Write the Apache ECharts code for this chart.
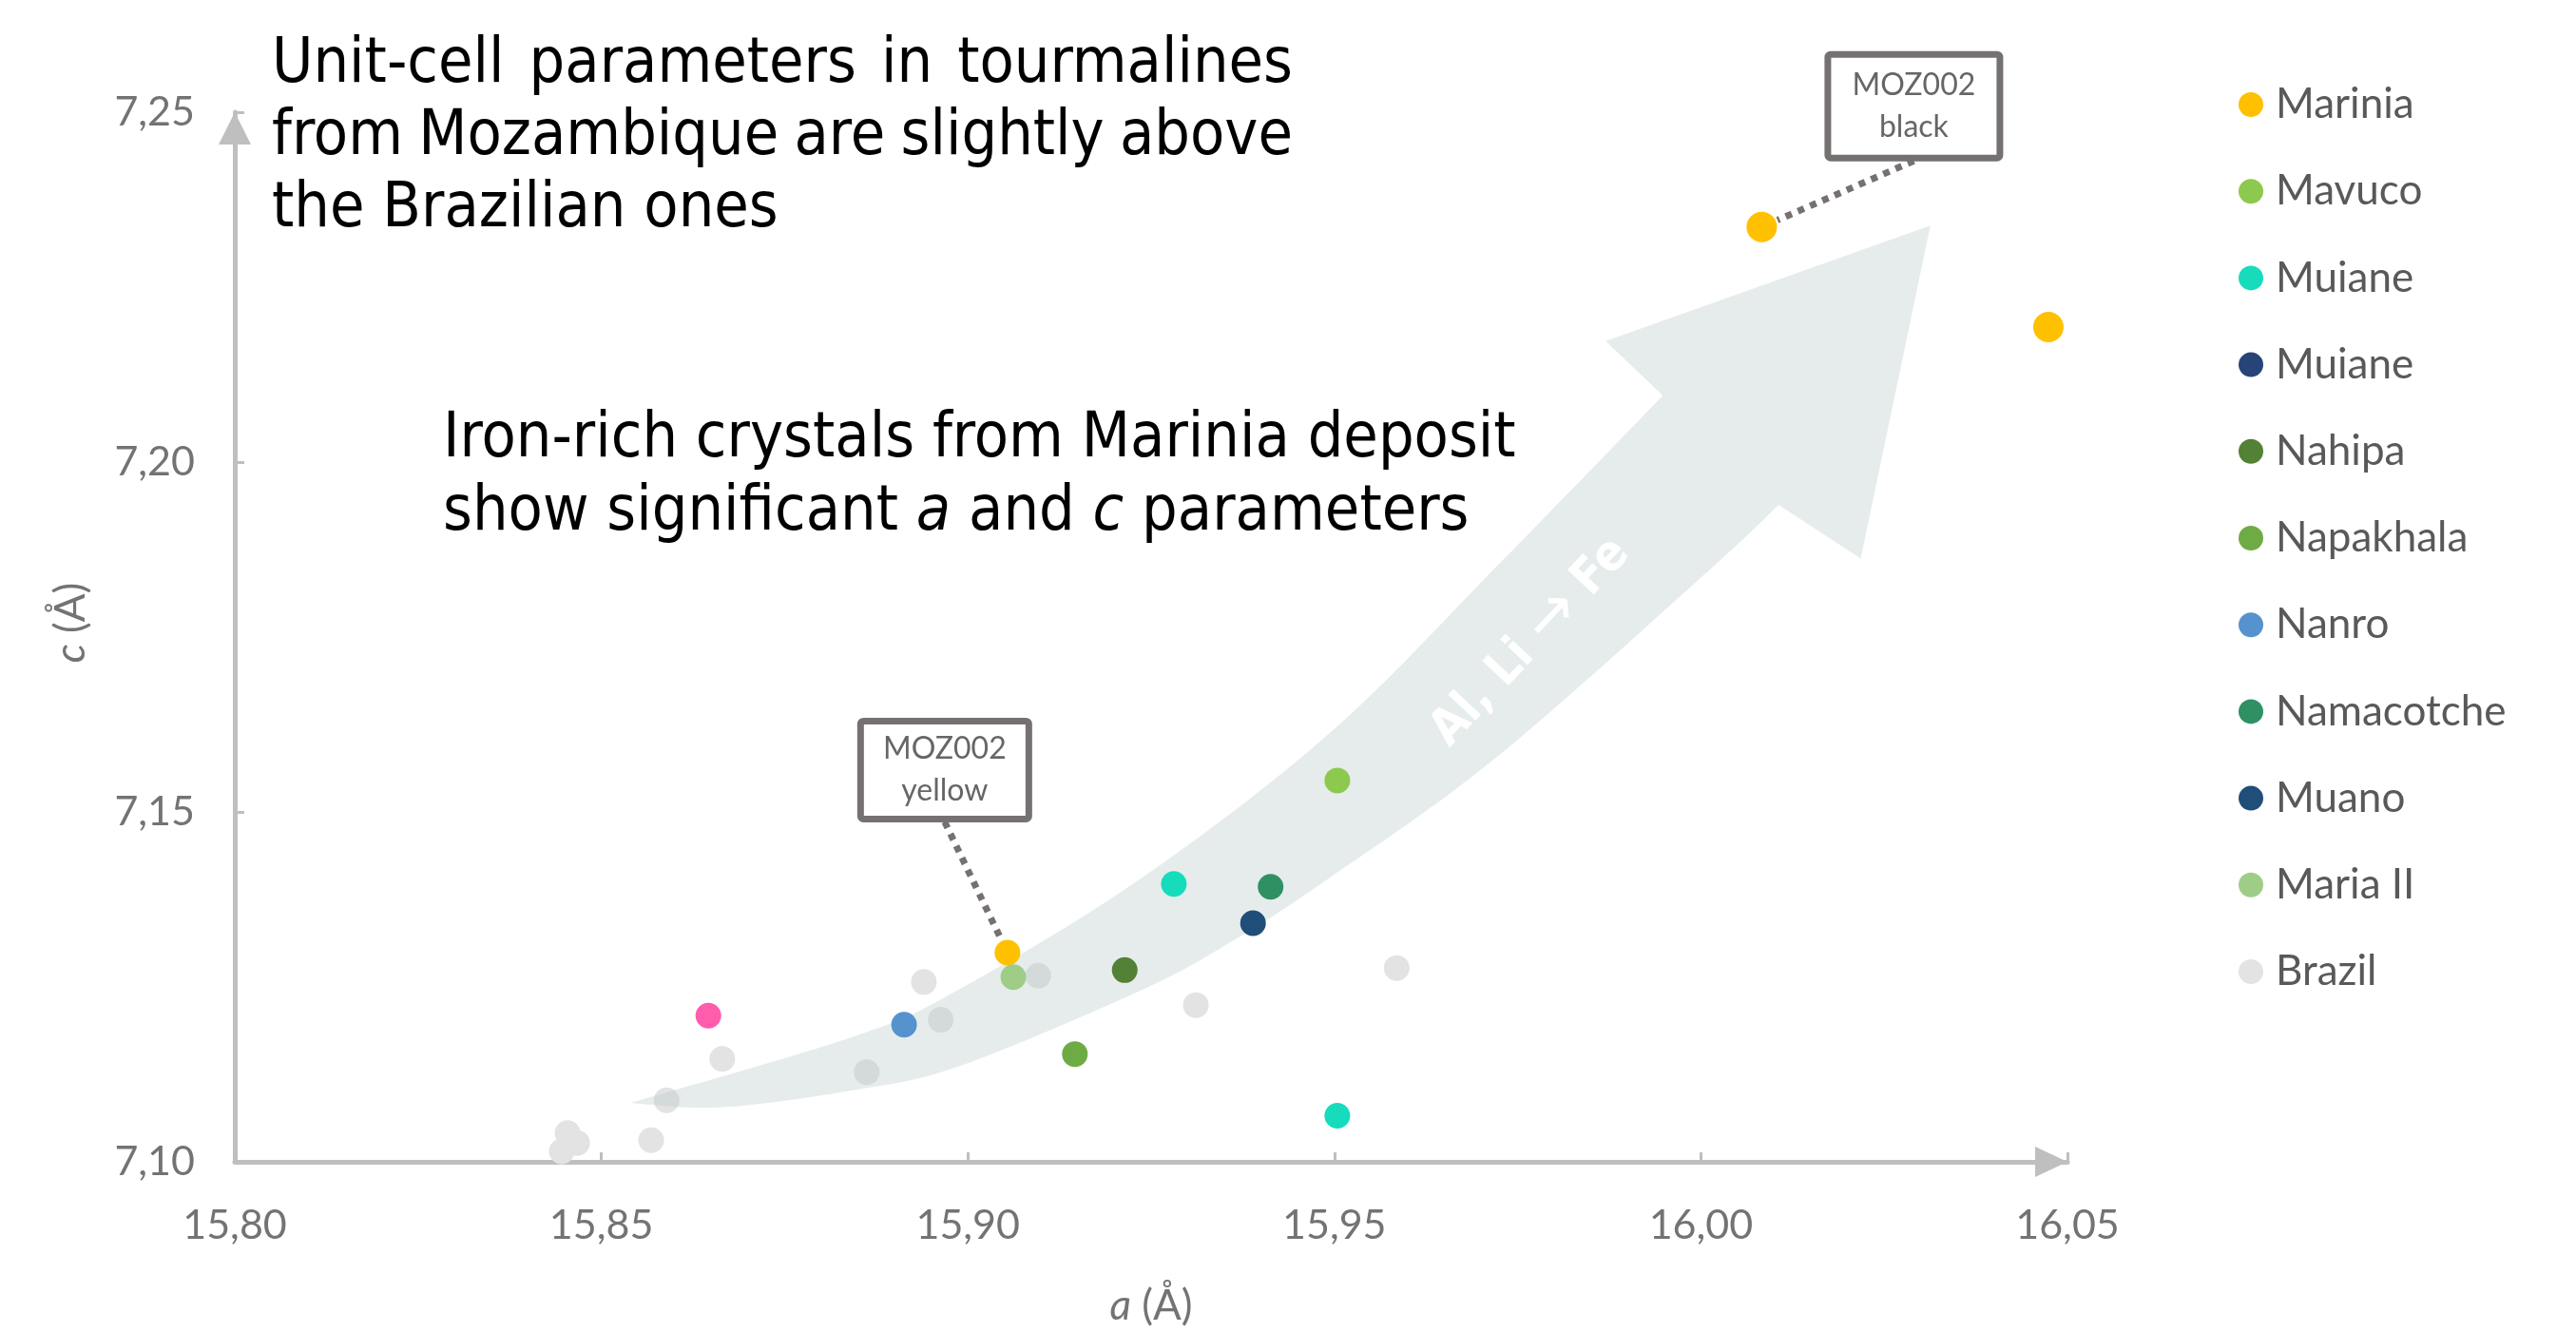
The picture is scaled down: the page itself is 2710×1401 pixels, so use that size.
<!DOCTYPE html>
<html>
<head>
<meta charset="utf-8">
<script src="https://cdn.jsdelivr.net/npm/echarts@6/dist/echarts.min.js"></script>
<style>
  html, body { margin: 0; padding: 0; background: #ffffff; }
  #chart { width: 2710px; height: 1401px; }
</style>
</head>
<body>
<div id="chart"></div>
<script>
// ---- axis ticks ----
const xTickLabels = ['15,80', '15,85', '15,90', '15,95', '16,00', '16,05'];
const yTickLabels = ['7,10', '7,15', '7,20', '7,25'];

// ---- unit-cell parameters [a (Å), c (Å)] per deposit ----
const marinia    = [[16.0083, 7.2336], [16.0474, 7.2193], [15.9054, 7.1299]];
const mavuco     = [[15.9504, 7.1545]];
const muiane     = [[15.9281, 7.1397], [15.9504, 7.1066]];
const muianeDark = [];
const nahipa     = [[15.9214, 7.1274]];
const napakhala  = [[15.9146, 7.1154]];
const nanro      = [[15.8913, 7.1196]];
const namacotche = [[15.9413, 7.1393]];
const muano      = [[15.9389, 7.1341]];
const mariaII    = [[15.9062, 7.1264]];
const brazil     = [
  [15.8665, 7.1147], [15.8589, 7.1088], [15.8568, 7.1031], [15.8454, 7.1041],
  [15.8467, 7.1027], [15.8446, 7.1015], [15.8862, 7.1128], [15.8940, 7.1257],
  [15.8963, 7.1203], [15.9096, 7.1266], [15.9311, 7.1224], [15.9585, 7.1277]
];
const unassigned = [[15.8646, 7.1209]];

// legend entries (keys must be unique, labels are what is shown)
const seriesKeys   = ['Marinia', 'Mavuco', 'Muiane', 'Muiane-2', 'Nahipa', 'Napakhala',
                      'Nanro', 'Namacotche', 'Muano', 'Maria II', 'Brazil'];
const legendLabels = ['Marinia', 'Mavuco', 'Muiane', 'Muiane', 'Nahipa', 'Napakhala',
                      'Nanro', 'Namacotche', 'Muano', 'Maria II', 'Brazil'];
const seriesData   = [marinia, mavuco, muiane, muianeDark, nahipa, napakhala,
                      nanro, namacotche, muano, mariaII, brazil];
const seriesColors = ['#FFC000', '#8DC94E', '#16DCBC', '#264478', '#538135', '#6FAB45',
                      '#5693CE', '#2F9163', '#1F4E79', '#9FCD88', '#E3E3E3'];

// callout boxes pointing at two Marinia samples
const callouts = [
  { text: 'MOZ002\nblack',  point: marinia[0] },
  { text: 'MOZ002\nyellow', point: marinia[2] }
];

// ---- layout / styling ----
const calloutLayout = [
  { dx: 160, dy: -127, w: 181, h: 109 },
  { dx: -66, dy: -192, w: 177, h: 103 }
];
const markerSize = 27;
const mariniaSizes = [32, 32, 27];
const textFont = '"DejaVu Sans Condensed", "DejaVu Sans", sans-serif';
const labelFont = 'Lato, "Open Sans", sans-serif';
const axisGrey = '#bfbfbf';
const labelGrey = '#737373';

// decorative trend arrow outline, in axis units
const arrowUpper = [[15.8539, 7.1084], [15.8847, 7.1180], [15.8989, 7.1247], [15.9236, 7.1405],
                    [15.9495, 7.1614], [15.9727, 7.1857], [15.9948, 7.2095]];
const arrowHead  = [[15.9870, 7.2173], [16.0313, 7.2338], [16.0218, 7.1862], [16.0106, 7.1939]];
const arrowLower = [[16.0106, 7.1939], [16.0015, 7.1849], [15.9721, 7.1578], [15.9495, 7.1407],
                    [15.9365, 7.1318], [15.9236, 7.1245], [15.8989, 7.1137], [15.8847, 7.1103],
                    [15.8665, 7.1078], [15.8539, 7.1084]];
const arrowText = { text: 'Al, Li {ar|\u2192} Fe', at: [15.9768, 7.1742] };

function catmullRom(pts, steps) {
  const out = [];
  for (let i = 0; i < pts.length - 1; i++) {
    const p0 = pts[i - 1] || pts[i], p1 = pts[i], p2 = pts[i + 1], p3 = pts[i + 2] || pts[i + 1];
    for (let s = 0; s < steps; s++) {
      const t = s / steps, t2 = t * t, t3 = t2 * t;
      const f = k => 0.5 * ((2 * p1[k]) + (-p0[k] + p2[k]) * t +
        (2 * p0[k] - 5 * p1[k] + 4 * p2[k] - p3[k]) * t2 +
        (-p0[k] + 3 * p1[k] - 3 * p2[k] + p3[k]) * t3);
      out.push([f(0), f(1)]);
    }
  }
  out.push(pts[pts.length - 1]);
  return out;
}

// ---- justified headline text ----
const measureCtx = document.createElement('canvas').getContext('2d');
function measure(word, font) { measureCtx.font = font; return measureCtx.measureText(word).width; }
function textLine(line, x0, x1, y, font, justify) {
  const words = line.split(' ');
  if (!justify) {
    return [{ type: 'text', x: x0, y: y, style: { text: line, font: font, fill: '#000000', align: 'left', verticalAlign: 'middle' } }];
  }
  const widths = words.map(w => measure(w, font));
  const total = widths.reduce((s, w) => s + w, 0);
  const gap = (x1 - x0 - total) / (words.length - 1);
  let x = x0;
  return words.map((w, i) => {
    const el = { type: 'text', x: x, y: y, style: { text: w, font: font, fill: '#000000', align: 'left', verticalAlign: 'middle' } };
    x += widths[i] + gap;
    return el;
  });
}
const headSize = 66;
const headFont = headSize + 'px ' + textFont;
const headline = [].concat(
  textLine('Unit-cell parameters in tourmalines', 286, 1360, 69, headFont, true),
  textLine('from Mozambique are slightly above', 286, 1360, 145, headFont, true),
  textLine('the Brazilian ones', 286, 1360, 221, headFont, false),
  textLine('Iron-rich crystals from Marinia deposit', 466, 1607, 463, headFont, false),
  [{
    type: 'text', x: 466, y: 540,
    style: {
      text: 'show significant {i|a} and {i|c} parameters',
      font: headFont, fill: '#000000', align: 'left', verticalAlign: 'middle',
      rich: { i: { fontStyle: 'italic', fontSize: headSize, fontFamily: textFont, fill: '#000000' } }
    }
  }]
);

const chart = echarts.init(document.getElementById('chart'), null, { renderer: 'canvas' });

const scatterSeries = seriesKeys.map((key, i) => ({
  name: key,
  type: 'scatter',
  data: seriesData[i],
  z: key === 'Brazil' ? 1 : 4,
  symbol: 'circle',
  symbolSize: key === 'Marinia' ? (v, p) => mariniaSizes[p.dataIndex] : markerSize,
  itemStyle: { color: seriesColors[i], opacity: 1 },
  emphasis: { disabled: true }
}));

const option = {
  backgroundColor: '#ffffff',
  animation: false,
  grid: { left: 247, right: 535, top: 118, bottom: 173 },
  xAxis: {
    type: 'value', min: 15.80, max: 16.05, interval: 0.05,
    name: '{i|a} (Å)', nameLocation: 'middle', nameGap: 130,
    nameTextStyle: {
      fontFamily: labelFont, fontSize: 44, color: labelGrey,
      rich: { i: { fontStyle: 'italic', fontFamily: labelFont, fontSize: 44, color: labelGrey } }
    },
    axisLine: {
      show: true, symbol: ['none', 'triangle'], symbolSize: [32, 34], symbolOffset: [0, -17],
      lineStyle: { color: axisGrey, width: 5 }
    },
    axisTick: { show: true, inside: true, length: 10, lineStyle: { color: axisGrey, width: 3 } },
    axisLabel: {
      margin: 46, fontFamily: labelFont, fontSize: 43, color: labelGrey,
      formatter: v => xTickLabels[Math.round((v - 15.80) / 0.05)]
    },
    splitLine: { show: false }
  },
  yAxis: {
    type: 'value', min: 7.10, max: 7.25, interval: 0.05,
    name: '{i|c} (Å)', nameLocation: 'middle', nameGap: 150,
    nameTextStyle: {
      fontFamily: labelFont, fontSize: 44, color: labelGrey, padding: [0, 0, 0, 30],
      rich: { i: { fontStyle: 'italic', fontFamily: labelFont, fontSize: 44, color: labelGrey } }
    },
    axisLine: {
      show: true, symbol: ['none', 'triangle'], symbolSize: [34, 34], symbolOffset: [0, -17],
      lineStyle: { color: axisGrey, width: 5 }
    },
    axisTick: { show: true, inside: true, length: 10, lineStyle: { color: axisGrey, width: 3 } },
    axisLabel: {
      margin: 42, fontFamily: labelFont, fontSize: 43, color: labelGrey,
      formatter: v => yTickLabels[Math.round((v - 7.10) / 0.05)]
    },
    splitLine: { show: false }
  },
  legend: {
    data: seriesKeys,
    orient: 'vertical', left: 2350, top: 83,
    icon: 'circle', itemWidth: 26, itemHeight: 26, itemGap: 47.2,
    selectedMode: false,
    formatter: name => legendLabels[seriesKeys.indexOf(name)],
    textStyle: { fontFamily: labelFont, fontSize: 44, color: '#595959', lineHeight: 26, padding: [0, 0, 0, 8] }
  },
  graphic: headline,
  series: [
    {
      name: 'trend', type: 'custom', z: 2, silent: true,
      data: [[15.9, 7.15]],
      renderItem: (params, api) => {
        const upper = catmullRom(arrowUpper, 16).map(p => api.coord(p));
        const lower = catmullRom(arrowLower, 16).map(p => api.coord(p));
        const head = arrowHead.map(p => api.coord(p));
        const pts = upper.concat(head, lower.slice(1));
        const tp = api.coord(arrowText.at);
        return {
          type: 'group',
          children: [
            { type: 'polygon', shape: { points: pts }, style: { fill: 'rgba(185,202,202,0.36)' } },
            {
              type: 'text', x: tp[0], y: tp[1], rotation: Math.PI * 0.26,
              style: {
                text: arrowText.text, fill: '#ffffff', fontSize: 52, fontWeight: 'bold',
                fontFamily: textFont, align: 'center', verticalAlign: 'middle',
                rich: { ar: { fontSize: 70, fontWeight: 'normal', fontFamily: textFont, fill: '#ffffff' } }
              }
            }
          ]
        };
      }
    }
  ].concat(scatterSeries, [
    {
      name: 'unassigned', type: 'scatter', z: 4, data: unassigned,
      symbol: 'circle', symbolSize: markerSize,
      itemStyle: { color: '#FF3399' }, emphasis: { disabled: true }
    },
    {
      name: 'callouts', type: 'custom', z: 6, silent: true,
      data: callouts.map(c => c.point),
      renderItem: (params, api) => {
        const idx = params.dataIndex;
        const lay = calloutLayout[idx];
        const p = api.coord([api.value(0), api.value(1)]);
        const cx = p[0] + lay.dx, cy = p[1] + lay.dy;
        const sx = cx, sy = cy + lay.h / 2 + 3;
        const ang = Math.atan2(sy - p[1], sx - p[0]);
        const ex = p[0] + 18 * Math.cos(ang), ey = p[1] + 18 * Math.sin(ang);
        return {
          type: 'group',
          children: [
            { type: 'line', shape: { x1: sx, y1: sy, x2: ex, y2: ey },
              style: { stroke: '#767171', lineWidth: 7, lineDash: [7, 7] } },
            { type: 'rect', shape: { x: cx - lay.w / 2, y: cy - lay.h / 2, width: lay.w, height: lay.h, r: 3 },
              style: { fill: '#ffffff', stroke: '#767171', lineWidth: 7 } },
            { type: 'text', x: cx, y: cy,
              style: { text: callouts[idx].text, fill: '#666666', fontSize: 32, fontFamily: labelFont,
                       lineHeight: 44, align: 'center', verticalAlign: 'middle' } }
          ]
        };
      }
    }
  ])
};

chart.setOption(option);
</script>
</body>
</html>
